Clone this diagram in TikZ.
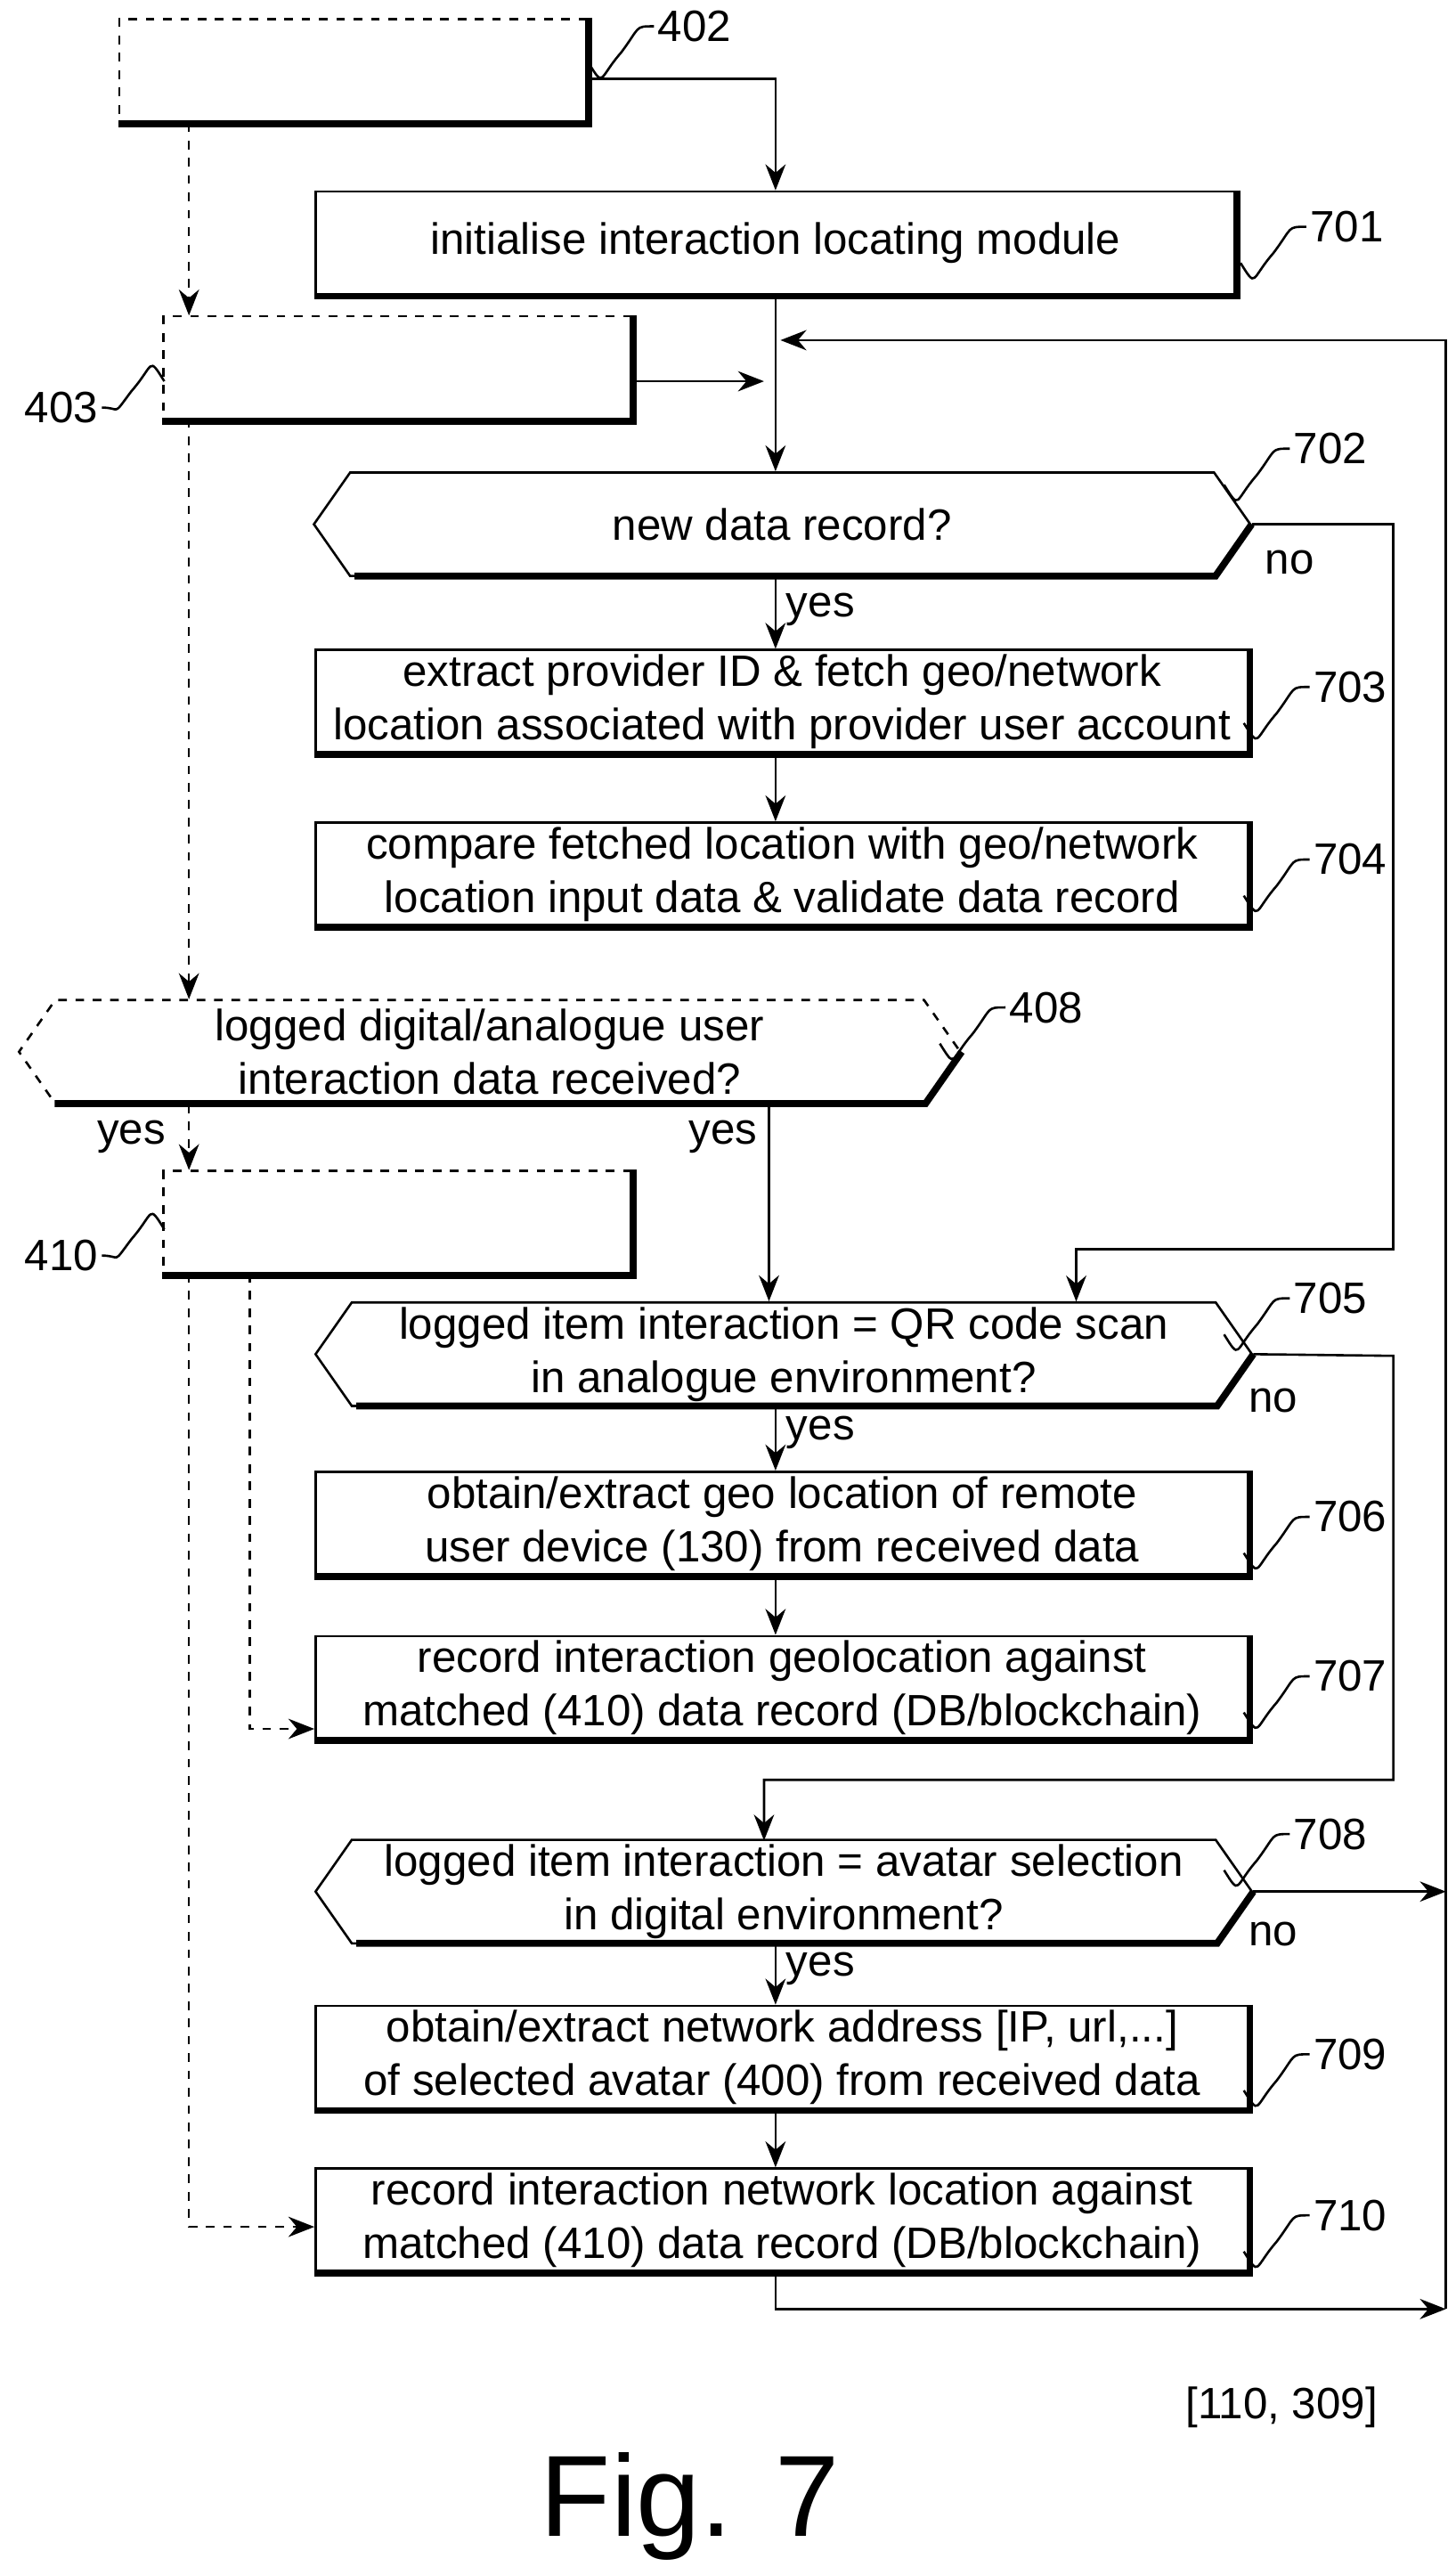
\documentclass[tikz,border=0pt]{standalone}
\usepackage{fontspec}
\setmainfont{Liberation Sans}
\usetikzlibrary{shapes.symbols, arrows.meta, positioning, calc}
\newcommand{\fs}{\fontsize{15.2}{18.5}\selectfont}
\tikzset{
  box/.style={draw, thick, minimum width=11.36cm, minimum height=1.26cm, align=center, font=\fs, inner sep=0},
  dbox/.style={draw, thick, dashed, minimum width=5.7cm, minimum height=1.26cm},
  test/.style={signal, signal to=west and east, signal pointer angle=110, draw, thick,
    minimum width=11.4cm, minimum height=1.26cm, align=center, font=\fs, inner xsep=0, inner ysep=0},
  arr/.style={-{Stealth[length=9pt,width=7pt]}, thick},
  darr/.style={arr, dashed},
  lbl/.style={font=\fs},
  shd/.style={line width=2.4pt}
}
% thick lower/right edge of boxes and tests
\newcommand{\boxshd}[1]{\draw[shd] (#1.north east) -- (#1.south east) -- (#1.south west);}
\newcommand{\testshd}[2]{\draw[shd] (#1.east) -- ++(-22,31.5) -- ++(-#2,0);}
% wavy reference line
\newcommand{\wavy}[2]{\draw[thick] (#1) .. controls +(10,16) and +(-14,16) .. ++(20,-6)
  .. controls +(12,-16) and +(-12,0) .. ++(20,-16) node[right, lbl, inner sep=1pt]{#2};}
\newcommand{\wavyl}[2]{\draw[thick] (#1) .. controls +(-10,-16) and +(14,-16) .. ++(-20,6)
  .. controls +(-12,16) and +(12,0) .. ++(-18,10) node[left, lbl, inner sep=1pt]{#2};}

\begin{document}
\begin{tikzpicture}[x=0.02cm, y=-0.02cm]
  \useasboundingbox (0,0) rectangle (886,1562);

  % dashed boxes on the left
  \node[dbox] (b402) at (215,43) {};
  \node[dbox] (b403) at (242,224) {};
  \node[dbox] (b410) at (242,744) {};
  \boxshd{b402} \boxshd{b403} \boxshd{b410}

  % main column
  \node[box, minimum width=11.2cm] (s701) at (472,148) {initialise interaction locating module};
  \node[test] (s702) at (476,319) {new data record?};
  \node[box] (s703) at (476,427) {extract provider ID \& fetch geo/network\\location associated with provider user account};
  \node[box] (s704) at (476,532) {compare fetched location with geo/network\\location input data \& validate data record};
  \node[test, dashed, minimum width=11.46cm] (s408) at (298,640) {logged digital/analogue user\\interaction data received?};
  \node[test] (s705) at (477,824) {logged item interaction = QR code scan\\in analogue environment?};
  \node[box] (s706) at (476,927) {obtain/extract geo location of remote\\user device (130) from received data};
  \node[box] (s707) at (476,1027) {record interaction geolocation against\\matched (410) data record (DB/blockchain)};
  \node[test] (s708) at (477,1151) {logged item interaction = avatar selection\\in digital environment?};
  \node[box] (s709) at (476,1252) {obtain/extract network address [IP, url,...]\\of selected avatar (400) from received data};
  \node[box] (s710) at (476,1351) {record interaction network location against\\matched (410) data record (DB/blockchain)};
  \boxshd{s701} \boxshd{s703} \boxshd{s704} \boxshd{s706} \boxshd{s707} \boxshd{s709} \boxshd{s710}
  \testshd{s702}{524} \testshd{s705}{524} \testshd{s708}{524} \testshd{s408}{530}

  \coordinate (loop) at (880,207);
  \coordinate (m403) at (472,232);
  \coordinate (m408) at (468,672);

  % connectors
  \draw[arr] ([yshift=-0.1cm]b402.east) -| (s701.north);
  \draw[arr] (s701.south) -- (s702.north -| s701.south);
  \draw[arr] (b403.east |- m403) -- ([xshift=-4]m403);
  \draw[arr] (s702.south -| m403) -- node[right, lbl, pos=0.45]{yes} (s703.north -| m403);
  \draw[arr] (s702.east) -- (848,319) -- (848,760) -| (655,792);
  \draw[arr] (s703.south -| m403) -- (s704.north -| m403);
  \draw[arr] (m408) -- (s705.north -| m408);
  \draw[arr] (s705.south -| m403) -- node[right, lbl, pos=0.4]{yes} (s706.north -| m403);
  \draw[arr] (s706.south -| m403) -- (s707.north -| m403);
  \draw[arr] (s705.east) -- (848,825) -- (848,1083) -| (465,1120);
  \draw[arr] (s708.south -| m403) -- node[right, lbl, pos=0.4]{yes} (s709.north -| m403);
  \draw[arr] (s709.south -| m403) -- (s710.north -| m403);
  \draw[arr] (s708.east) -- (880,1151);
  \draw[arr] (s710.south -| m403) |- (880,1405);
  \draw[arr] (880,1405) -- (loop) -- (475,207);
  \draw[darr] (115,75) -- (115,192);
  \draw[darr] (115,255) -- (115,608);
  \draw[darr] (115,672) -- (115,712);
  \draw[darr] (152,775) |- (s707.west |- 0,1052);
  \draw[darr] (115,775) |- (s710.west |- 0,1355);

  % texts
  \node[lbl] at (785,342) {no};
  \node[lbl] at (775,852) {no};
  \node[lbl] at (775,1177) {no};
  \node[lbl] at (80,692) {yes};
  \node[lbl] at (440,692) {yes};
  \node[lbl] at (780,1465) {[110, 309]};
  \node[font=\fontsize{40}{48}\selectfont] at (420,1525) {Fig. 7};

  % reference numerals
  \wavy{358,38}{402}
  \wavy{755,160}{701}
  \wavy{745,295}{702}
  \wavy{757,440}{703}
  \wavy{757,545}{704}
  \wavy{572,635}{408}
  \wavy{745,812}{705}
  \wavy{757,945}{706}
  \wavy{757,1042}{707}
  \wavy{745,1138}{708}
  \wavy{757,1272}{709}
  \wavy{757,1370}{710}
  \wavyl{100,232}{403}
  \wavyl{100,748}{410}
\end{tikzpicture}
\end{document}
